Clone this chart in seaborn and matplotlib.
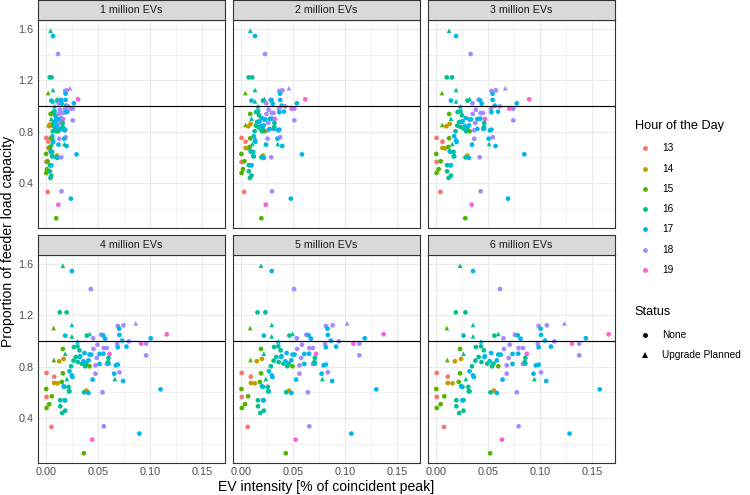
import numpy as np
import pandas as pd
import matplotlib
matplotlib.use("Agg")
import matplotlib.pyplot as plt
import seaborn as sns
from matplotlib.lines import Line2D

# ---------------- data ----------------
panels = ["1 million EVs", "2 million EVs", "3 million EVs",
          "4 million EVs", "5 million EVs", "6 million EVs"]
# EV intensity of each feeder relative to the 4 million EV scenario
panel_scale = [0.265, 0.53, 0.77, 1.0, 1.18, 1.43]

hours = [13, 14, 15, 16, 17, 18, 19]
hour_colors = ["#F8766D", "#C49A00", "#53B400", "#00C094", "#00B6EB", "#A58AFF", "#FB61D7"]
status_levels = ["None", "Upgrade Planned"]

# EV intensity in the 4 million EV panel
intensity_4m = [
    0.0160, 0.0247, 0.0429, 0.0131, 0.0196, 0.0071, 0.0247, 0.0689, 0.0744, 0.0862,
    0.0702, 0.0183, 0.0247, 0.0391, 0.0417, 0.0452, 0.0529, 0.0567, 0.0548, 0.0705,
    0.0731, 0.0795, 0.1006, 0.1160, 0.0301, 0.0913, 0.0962, 0.0683, 0.0689, 0.0772,
    0.0962, 0.0160, 0.0183, 0.0266, 0.0301, 0.0320, 0.0369, 0.0327, 0.0417, 0.0433,
    0.0455, 0.0494, 0.0583, 0.0554, 0.0513, 0.0551, 0.0609, 0.0074, 0.0125, 0.0167,
    0.0240, 0.0285, 0.0263, 0.0304, 0.0343, 0.0385, 0.0359, 0.0407, 0.0324, 0.0487,
    0.0474, 0.0583, 0.0513, 0.0599, 0.0599, 0.0596, 0.0224, 0.0253, 0.0247, 0.0160,
    0.0417, 0.0375, 0.0689, 0.0670, 0.0705, 0.0654, 0.0740, 0.0660, 0.0474, 0.0446,
    0.0003, 0.0077, 0.0077, 0.0109, 0.0151, 0.0176, 0.0215, 0.0199, 0.0167, 0.0224,
    0.0000, 0.0218, 0.0388, 0.0365, 0.0407, 0.0542, 0.0003, 0.0054, 0.0029, 0.0003,
    0.0135, 0.0135, 0.0183, 0.0154, 0.0183, 0.0176, 0.0051, 0.0554, 0.0897, 0.1100,
    0.0442, 0.0362,
]
load_prop = [
    1.587, 1.545, 1.405, 1.223, 1.223, 1.101, 1.125, 1.117, 1.122, 1.138,
    1.096, 1.042, 1.036, 1.042, 1.055, 1.021, 1.049, 1.018, 1.044, 1.047,
    1.003, 0.997, 1.021, 1.052, 0.997, 0.979, 0.979, 0.977, 0.951, 0.956,
    0.888, 0.938, 0.901, 0.953, 0.958, 0.927, 0.906, 0.881, 0.894, 0.894,
    0.938, 0.971, 0.945, 0.945, 0.899, 0.901, 0.899, 0.852, 0.842, 0.860,
    0.803, 0.875, 0.847, 0.836, 0.823, 0.823, 0.842, 0.849, 0.875, 0.868,
    0.810, 0.821, 0.821, 0.823, 0.868, 0.836, 0.764, 0.719, 0.732, 0.748,
    0.803, 0.803, 0.816, 0.810, 0.756, 0.745, 0.688, 0.704, 0.745, 0.699,
    0.751, 0.722, 0.673, 0.670, 0.681, 0.642, 0.642, 0.704, 0.647, 0.608,
    0.626, 0.608, 0.613, 0.600, 0.595, 0.600, 0.564, 0.569, 0.507, 0.478,
    0.538, 0.491, 0.538, 0.439, 0.457, 0.538, 0.330, 0.335, 0.278, 0.623,
    0.231, 0.125,
]
hour = [
    16, 17, 18, 16, 16, 15, 16, 18, 18, 18,
    17, 17, 16, 16, 16, 18, 18, 17, 17, 17,
    17, 18, 17, 19, 17, 19, 18, 18, 17, 17,
    18, 15, 16, 16, 16, 16, 17, 17, 17, 17,
    18, 18, 18, 18, 17, 17, 19, 15, 14, 14,
    16, 16, 16, 16, 16, 16, 17, 17, 17, 18,
    18, 18, 17, 17, 16, 16, 17, 17, 17, 15,
    15, 16, 17, 17, 18, 17, 17, 16, 18, 17,
    13, 13, 14, 14, 15, 16, 16, 16, 17, 17,
    15, 16, 14, 16, 17, 18, 13, 15, 15, 15,
    16, 16, 16, 16, 16, 17, 13, 18, 17, 17,
    19, 15,
]
upgrade = [
    1, 0, 0, 0, 0, 1, 1, 0, 0, 1,
    0, 0, 1, 0, 1, 0, 0, 0, 0, 0,
    0, 0, 0, 0, 1, 0, 0, 0, 0, 0,
    0, 0, 1, 0, 0, 0, 0, 0, 0, 0,
    0, 0, 0, 0, 0, 0, 0, 1, 0, 0,
    0, 0, 0, 0, 0, 0, 0, 0, 0, 0,
    0, 0, 0, 0, 0, 0, 0, 0, 0, 0,
    0, 0, 0, 0, 0, 0, 0, 1, 0, 0,
    0, 0, 0, 0, 0, 0, 0, 1, 0, 0,
    0, 0, 0, 0, 0, 0, 0, 0, 0, 0,
    0, 0, 0, 0, 0, 0, 0, 0, 0, 0,
    0, 0,
]

rows = []
for pname, sc in zip(panels, panel_scale):
    for xi, yi, h, u in zip(intensity_4m, load_prop, hour, upgrade):
        rows.append({"panel": pname, "intensity": xi * sc, "load": yi,
                     "hour": h, "status": status_levels[u]})
df = pd.DataFrame(rows)

# ---------------- style ----------------
sns.set_theme(style="white")
plt.rcParams["font.family"] = ["Liberation Sans", "DejaVu Sans"]

W, H = 750.0, 495.0
fig = plt.figure(figsize=(7.5, 4.95), dpi=100)
fig.patch.set_facecolor("white")

col_left = [37.7, 232.9, 427.8]
panel_w = 187.0
row_top = [19.5, 254.5]
panel_h = 208.5
strip_h = 19.2

border = "#333333"
grid_c = "#EBEBEB"
tick_c = "#4D4D4D"
fs_tick = 7.8
fs_strip = 7.7
fs_leg = 7.3
fs_axtitle = 10.1
fs_legtitle = 9.2

xlim = (-0.0082, 0.1718)
ylim = (0.049, 1.674)

for i, pname in enumerate(panels):
    r, c = divmod(i, 3)
    l, t = col_left[c], row_top[r]
    ax = fig.add_axes([l / W, 1 - (t + panel_h) / H, panel_w / W, panel_h / H])
    sub = df[df["panel"] == pname]
    sns.scatterplot(data=sub, x="intensity", y="load", hue="hour", hue_order=hours,
                    palette=hour_colors, style="status", style_order=status_levels,
                    markers={"None": "o", "Upgrade Planned": "^"}, s=11.5,
                    linewidth=0, ax=ax, legend=False, zorder=2)
    ax.axhline(1.0, color="black", lw=0.85, zorder=3)
    ax.set_xlim(*xlim)
    ax.set_ylim(*ylim)
    ax.set_xticks([0.0, 0.05, 0.10, 0.15])
    ax.set_xticks([0.025, 0.075, 0.125], minor=True)
    ax.set_yticks([0.4, 0.8, 1.2, 1.6])
    ax.set_yticks([0.2, 0.6, 1.0, 1.4], minor=True)
    ax.set_xticklabels(["0.00", "0.05", "0.10", "0.15"])
    ax.set_yticklabels(["0.4", "0.8", "1.2", "1.6"])
    ax.grid(which="major", color=grid_c, lw=0.8, zorder=0)
    ax.grid(which="minor", color=grid_c, lw=0.45, zorder=0)
    ax.set_axisbelow(True)
    ax.set_facecolor("white")
    for sp in ax.spines.values():
        sp.set_color(border)
        sp.set_linewidth(0.8)
        sp.set_visible(True)
    ax.set_xlabel("")
    ax.set_ylabel("")
    ax.tick_params(which="minor", length=0)
    ax.tick_params(which="major", length=1.6, width=0.7, color=border,
                   labelsize=fs_tick, labelcolor=tick_c, pad=1.4)
    if r == 0:
        ax.tick_params(axis="x", which="major", length=0, labelbottom=False)
    if c != 0:
        ax.tick_params(axis="y", which="major", length=0, labelleft=False)

    # strip
    sax = fig.add_axes([l / W, 1 - t / H, panel_w / W, strip_h / H])
    sax.set_facecolor("#D9D9D9")
    sax.set_xticks([])
    sax.set_yticks([])
    for sp in sax.spines.values():
        sp.set_color(border)
        sp.set_linewidth(0.8)
    sax.text(0.5, 0.48, pname, ha="center", va="center", fontsize=fs_strip,
             color="#1A1A1A", transform=sax.transAxes)

# axis titles
fig.text(326.5 / W, 1 - 487.0 / H, "EV intensity [% of coincident peak]",
         ha="center", va="center", fontsize=fs_axtitle, color="black")
fig.text(8.0 / W, 1 - 241.0 / H, "Proportion of feeder load capacity",
         ha="center", va="center", rotation=90, fontsize=fs_axtitle, color="black")

# legends (drawn manually to match the ggplot layout)
def fx(px):
    return px / W

def fy(py):
    return 1 - py / H

fig.text(fx(634.7), fy(125.7), "Hour of the Day", ha="left", va="center",
         fontsize=fs_legtitle, color="black")
for k, (h, col) in enumerate(zip(hours, hour_colors)):
    yy = 148.3 + k * 20.28
    fig.add_artist(Line2D([fx(644.7)], [fy(yy)], marker="o", markersize=3.5,
                          color=col, markeredgewidth=0, linestyle="none",
                          transform=fig.transFigure))
    fig.text(fx(662.0), fy(yy), str(h), ha="left", va="center",
             fontsize=fs_leg, color="black")

fig.text(fx(634.7), fy(312.3), "Status", ha="left", va="center",
         fontsize=fs_legtitle, color="black")
for k, (lab, mk) in enumerate(zip(status_levels, ["o", "^"])):
    yy = 335.0 + k * 20.3
    fig.add_artist(Line2D([fx(644.7)], [fy(yy)], marker=mk, markersize=3.5 if mk == "o" else 3.9,
                          color="black", markeredgewidth=0, linestyle="none",
                          transform=fig.transFigure))
    fig.text(fx(662.0), fy(yy), lab, ha="left", va="center",
             fontsize=fs_leg, color="black")

fig.savefig("out.png", dpi=100, facecolor="white")
